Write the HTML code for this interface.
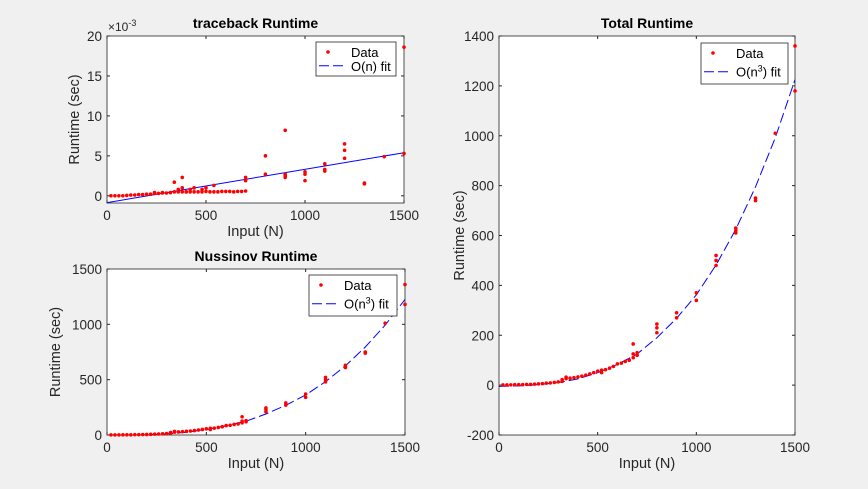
<!DOCTYPE html>
<html><head><meta charset="utf-8"><style>
body{margin:0;background:#f0f0f0;}
svg{display:block;font-family:"Liberation Sans",sans-serif;}
</style></head><body>
<svg id="fig" width="868" height="489"></svg>
<script>
// ---- data ----
const smallN = [20,40,60,80,100,120,140,160,180,200,220,240,260,280,300,320,340,360,380,400,420,440,460,480,500,520,540,560,580,600,620,640,660,680,700];
const smallT = [1,1,1,2,2,2,3,3,4,5,6,8,9,11,13,22,26,28,30,33,36,40,45,50,56,60,62,68,75,85,88,95,100,110,120];
const extraN = [320,340,520,680,680,700,800,800,800,900,900,1000,1000,1100,1100,1100,1200,1200,1200,1300,1300,1400,1500,1500];
const extraT = [15,32,50,125,165,130,210,230,245,270,290,340,370,480,500,520,610,620,630,740,750,1010,1180,1360];
const fitN = [0,100,200,300,400,500,600,700,800,900,1000,1100,1200,1300,1400,1500];
const fitT = [-5,-3,2,10,25,50,83,125,190,268,362,482,625,795,992,1225];
const tbN = [20,40,60,80,100,120,140,160,180,200,220,240,260,280,300,320,340,360,380,400,420,440,460,480,500,520,540,560,580,600,620,640,660,680,700];
const tbT = [0.0,0.0,0.0,0.0,0.05,0.1,0.1,0.15,0.15,0.2,0.2,0.3,0.3,0.35,0.35,0.4,0.5,0.5,0.5,0.5,0.5,0.5,0.5,0.5,0.55,0.5,0.5,0.5,0.55,0.55,0.55,0.5,0.55,0.55,0.6];
const tbExtraN = [240,280,340,360,380,380,400,420,440,480,500,540,700,700,800,800,900,900,900,900,1000,1000,1000,1100,1100,1100,1200,1200,1200,1300,1300,1400,1500,1500];
const tbExtraT = [0.4,0.4,1.7,0.8,2.3,1.0,0.5,0.8,1.0,0.8,1.0,1.3,1.9,2.3,2.7,5.0,2.3,2.5,2.7,8.2,1.9,2.7,3.0,3.1,3.3,4.0,4.7,5.7,6.5,1.5,1.6,4.9,5.3,18.6];
const tbFitN = [0,1500];
const tbFitT = [-0.85,5.4];
const xTicks = [0,500,1000,1500];
const ns="http://www.w3.org/2000/svg";
const svg=document.getElementById('fig');
function el(t,a,p){const e=document.createElementNS(ns,t);for(const k in a)e.setAttribute(k,a[k]);(p||svg).appendChild(e);return e;}
function axes(name,L,T,R,B,xd,yd,yTicks,title,legendText,lg,fn,ft,pts,yOff){
  const g=el('g',{});
  
  
  const X=v=>L+(v-xd[0])/(xd[1]-xd[0])*(R-L);
  const Y=v=>B-(v-yd[0])/(yd[1]-yd[0])*(B-T);
  el('rect',{x:L,y:T,width:R-L,height:B-T,fill:'#fff',stroke:'#262626','stroke-width':0.8},g);
  xTicks.forEach(t=>{const x=X(t);el('line',{x1:x,y1:B,x2:x,y2:B-3,stroke:'#262626'},g);el('line',{x1:x,y1:T,x2:x,y2:T+3,stroke:'#262626'},g);
    const tx=el('text',{x:x,y:B+17,'text-anchor':'middle','font-size':13.5,fill:'#262626'},g);tx.textContent=t;
    
    });
  yTicks.forEach(t=>{const y=Y(t);el('line',{x1:L,y1:y,x2:L+3,y2:y,stroke:'#262626'},g);el('line',{x1:R,y1:y,x2:R-3,y2:y,stroke:'#262626'},g);
    const tx=el('text',{x:L-5,y:y+5,'text-anchor':'end','font-size':13.5,fill:'#262626'},g);tx.textContent=t;
    
    });
  const ti=el('text',{x:(L+R)/2,y:T-8,'text-anchor':'middle','font-size':14,'font-weight':'bold',fill:'#000'},g);ti.textContent=title;
  
  
  const xl=el('text',{x:(L+R)/2,y:B+33,'text-anchor':'middle','font-size':14.5,fill:'#262626'},g);xl.textContent='Input (N)';
  
  
  const yl=el('text',{x:0,y:0,transform:`translate(${L-yOff},${(T+B)/2}) rotate(-90)`,'text-anchor':'middle','font-size':14.5,fill:'#262626'},g);yl.textContent='Runtime (sec)';
  
  
  const clip=el('clipPath',{id:name+'c'},g);el('rect',{x:L,y:T,width:R-L,height:B-T},clip);
  const d=fn.map((v,i)=>(i?'L':'M')+X(v).toFixed(1)+','+Y(ft[i]).toFixed(1)).join(' ');
  const fl=el('path',{d:d,fill:'none',stroke:'#0000ff','stroke-width':1,'stroke-dasharray':fn.length>2?'10,4':'none','clip-path':`url(#${name}c)`},g);
  
  
  pts.forEach(([ns_,ts])=>ns_.forEach((n,i)=>{const c=el('circle',{cx:X(n),cy:Y(ts[i]),r:1.8,fill:'#ff0000'},g);
    
    }));
  const lgG=el('g',{},g);
  
  
  el('rect',{x:lg[0],y:lg[1],width:lg[2],height:lg[3],fill:'#fff',stroke:'#262626','stroke-width':0.8},lgG);
  el('circle',{cx:lg[0]+12,cy:lg[1]+10,r:1.8,fill:'#ff0000'},lgG);
  const t1=el('text',{x:lg[0]+35,y:lg[1]+15,'font-size':13,fill:'#000'},lgG);t1.textContent='Data';
  el('line',{x1:lg[0]+3,y1:lg[1]+lg[3]*0.7,x2:lg[0]+30,y2:lg[1]+lg[3]*0.7,stroke:'#0000ff','stroke-dasharray':'10,4'},lgG);
  const t2=el('text',{x:lg[0]+35,y:lg[1]+lg[3]*0.7+5,'font-size':13,fill:'#000'},lgG);t2.innerHTML=legendText;
  return {X,Y,g};
}
const a1=axes('traceback-chart',107,36,404,203,[0,1500],[-0.9,20],[0,5,10,15,20],'traceback Runtime','O(n) fit',[316,42,80,34],tbFitN,tbFitT,[[tbN,tbT],[tbExtraN,tbExtraT]],28);
const ex=el('text',{x:108,y:31,'font-size':12,fill:'#262626'},a1.g);ex.innerHTML='×10<tspan dy="-5" font-size="9">-3</tspan>';


axes('nussinov-chart',107,269,405,435,[0,1500],[0,1500],[0,500,1000,1500],'Nussinov Runtime','O(n<tspan dy="-5" font-size="9">3</tspan><tspan dy="5">) fit</tspan>',[309,275,88,41],fitN,fitT,[[smallN,smallT],[extraN,extraT]],47);
axes('total-chart',499,36,795,435,[0,1500],[-200,1400],[-200,0,200,400,600,800,1000,1200,1400],'Total Runtime','O(n<tspan dy="-5" font-size="9">3</tspan><tspan dy="5">) fit</tspan>',[701,43,87,41],fitN,fitT,[[smallN,smallT],[extraN,extraT]],35);
</script>
</body></html>
